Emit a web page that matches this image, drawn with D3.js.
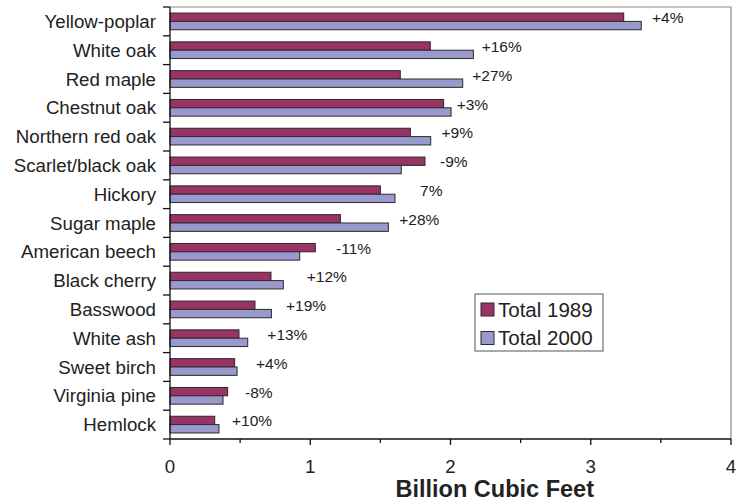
<!DOCTYPE html>
<html>
<head>
<meta charset="utf-8">
<script src="https://cdn.jsdelivr.net/npm/d3@7"></script>
<style>
  html, body { margin: 0; padding: 0; background: #fff; }
  svg text { font-family: "Liberation Sans", Arial, sans-serif; fill: #222; }
</style>
</head>
<body>
<svg id="chart" width="747" height="501"></svg>
<script>
// Growing-stock volume by species, billion cubic feet
const species = [
  "Yellow-poplar", "White oak", "Red maple", "Chestnut oak", "Northern red oak",
  "Scarlet/black oak", "Hickory", "Sugar maple", "American beech", "Black cherry",
  "Basswood", "White ash", "Sweet birch", "Virginia pine", "Hemlock"
];
const total1989 = [3.235, 1.856, 1.642, 1.951, 1.714, 1.818, 1.500, 1.215, 1.036, 0.720, 0.606, 0.492, 0.461, 0.411, 0.319];
const total2000 = [3.360, 2.163, 2.087, 2.004, 1.859, 1.649, 1.604, 1.557, 0.925, 0.808, 0.723, 0.554, 0.478, 0.378, 0.349];
const changeText = ["+4%", "+16%", "+27%", "+3%", "+9%", "-9%", "7%", "+28%", "-11%", "+12%", "+19%", "+13%", "+4%", "-8%", "+10%"];
// where each change note starts, in billion cubic feet
const changeAt = [3.437, 2.222, 2.155, 2.044, 1.936, 1.925, 1.783, 1.635, 1.184, 0.975, 0.827, 0.694, 0.613, 0.535, 0.442];
const seriesNames = ["Total 1989", "Total 2000"];
const xTicks = [0, 1, 2, 3, 4];
const axisTitle = "Billion Cubic Feet";

const colors = ["#993366", "#9999cc"];
const svg = d3.select("#chart");
const plotLeft = 170, plotRight = 731, plotTop = 7, plotBottom = 439;

const x = d3.scaleLinear().domain([0, 4]).range([plotLeft, plotRight]);
const y = d3.scaleBand().domain(species).range([plotTop, plotBottom])
  .paddingInner(0.42).paddingOuter(0.21);
const ySeries = d3.scaleBand().domain(seriesNames).range([0, y.bandwidth()]);
const step = y.step();

// plot frame: grey top and right edges
svg.append("path")
  .attr("d", `M${plotLeft},${plotTop}H${plotRight}V${plotBottom}`)
  .attr("fill", "none").attr("stroke", "#8a8a8a").attr("stroke-width", 1.2);

// bars
const rows = species.map((s, i) => ({ s, i, vals: [total1989[i], total2000[i]] }));
const g = svg.append("g");
rows.forEach(r => {
  r.vals.forEach((v, k) => {
    g.append("rect")
      .attr("x", x(0))
      .attr("y", y(r.s) + ySeries(seriesNames[k]))
      .attr("width", x(v) - x(0))
      .attr("height", ySeries.bandwidth())
      .attr("fill", colors[k])
      .attr("stroke", "#2a2a2a")
      .attr("stroke-width", 1);
  });
});

// change notes
svg.append("g").selectAll("text").data(rows).join("text")
  .attr("x", d => x(changeAt[d.i]))
  .attr("y", d => y(d.s) + y.bandwidth() / 2 + 1.8)
  .attr("font-size", 15.5)
  .text(d => changeText[d.i]);

// category axis: boundary ticks pointing left
const yAxis = svg.append("g");
yAxis.append("line").attr("x1", plotLeft).attr("x2", plotLeft).attr("y1", plotTop).attr("y2", plotBottom)
  .attr("stroke", "#111").attr("stroke-width", 1.3);
d3.range(species.length + 1).forEach(i => {
  const yy = plotTop + i * step;
  yAxis.append("line").attr("x1", plotLeft - 7).attr("x2", plotLeft).attr("y1", yy).attr("y2", yy)
    .attr("stroke", "#111").attr("stroke-width", 1.3);
});
yAxis.selectAll("text").data(species).join("text")
  .attr("x", 156)
  .attr("y", d => y(d) + y.bandwidth() / 2 + 6.5)
  .attr("text-anchor", "end")
  .attr("font-size", 18.7)
  .text(d => d);

// value axis
const xAxis = svg.append("g");
xAxis.append("line").attr("x1", plotLeft).attr("x2", plotRight).attr("y1", plotBottom).attr("y2", plotBottom)
  .attr("stroke", "#111").attr("stroke-width", 1.3);
d3.range(0, 4.01, 0.5).forEach(v => {
  const major = Math.abs(v - Math.round(v)) < 1e-9;
  xAxis.append("line").attr("x1", x(v)).attr("x2", x(v))
    .attr("y1", plotBottom).attr("y2", plotBottom + (major ? 6 : 4))
    .attr("stroke", "#111").attr("stroke-width", 1.3);
});
xAxis.selectAll("text").data(xTicks).join("text")
  .attr("x", d => x(d))
  .attr("y", 473)
  .attr("text-anchor", "middle")
  .attr("font-size", 18.7)
  .text(d => d);

svg.append("text")
  .attr("x", 594)
  .attr("y", 497)
  .attr("text-anchor", "end")
  .attr("font-size", 23.5)
  .attr("font-weight", "bold")
  .text(axisTitle);

// legend
const lg = svg.append("g").attr("transform", "translate(475,294)");
lg.append("rect").attr("width", 128).attr("height", 57)
  .attr("fill", "#fff").attr("stroke", "#555").attr("stroke-width", 1);
seriesNames.forEach((n, k) => {
  lg.append("rect").attr("x", 6).attr("y", 9 + k * 28.5).attr("width", 13).attr("height", 13)
    .attr("fill", colors[k]).attr("stroke", "#2a2a2a").attr("stroke-width", 1);
  lg.append("text").attr("x", 23).attr("y", 22.5 + k * 28.5)
    .attr("font-size", 20.5).text(n);
});
</script>
</body>
</html>
